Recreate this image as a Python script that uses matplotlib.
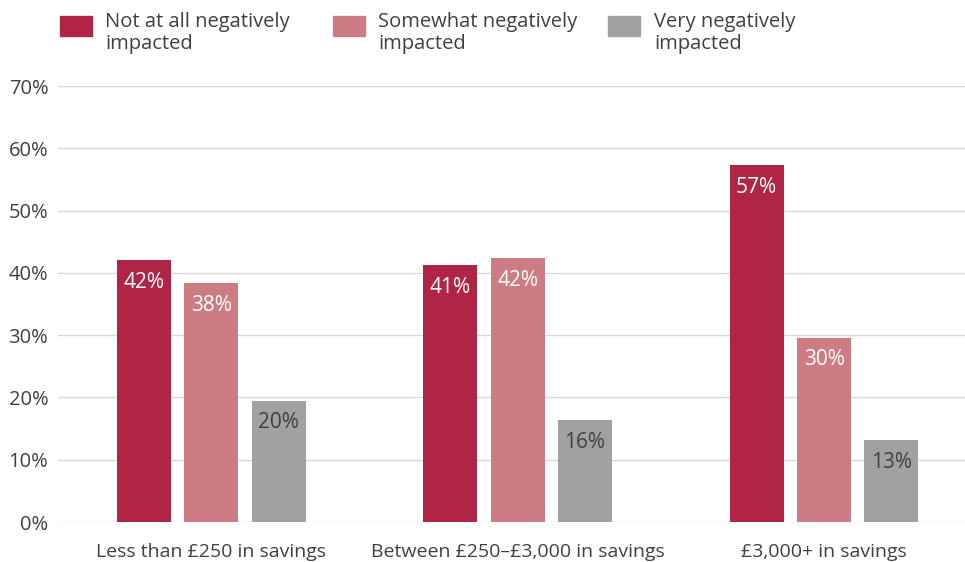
import numpy as np
import matplotlib
matplotlib.use('Agg')
import matplotlib.pyplot as plt
from matplotlib.patches import Rectangle

plt.rcParams['font.family'] = ['Open Sans', 'DejaVu Sans']

# Data
groups = ['Less than £250 in savings', 'Between £250–£3,000 in savings', '£3,000+ in savings']
series_names = ['Not at all negatively\nimpacted', 'Somewhat negatively\nimpacted', 'Very negatively\nimpacted']
not_at_all = [42.0, 41.2, 57.3]
somewhat = [38.4, 42.4, 29.6]
very = [19.5, 16.3, 13.1]
labels = [['42%', '41%', '57%'], ['38%', '42%', '30%'], ['20%', '16%', '13%']]

colors = ['#B02545', '#CD7C83', '#A2A19F']
label_colors = ['white', 'white', '#404040']
text_color = '#404040'

W, H = 965, 562
fig = plt.figure(figsize=(W / 100, H / 100), dpi=100)
ax = fig.add_axes([58 / W, 40 / H, 907 / W, 436 / H])

x = np.arange(len(groups))
width = 0.176
step = 0.22
for i, vals in enumerate([not_at_all, somewhat, very]):
    bars = ax.bar(x + (i - 1) * step, vals, width, color=colors[i], zorder=3)
    for b, lab in zip(bars, labels[i]):
        ax.text(b.get_x() + b.get_width() / 2, b.get_height() - 1.9, lab,
                ha='center', va='top', color=label_colors[i], fontsize=15, zorder=4)

ax.set_xlim(-0.5, 2.46)
ax.set_ylim(0, 70)
ax.set_yticks(range(0, 71, 10))
ax.set_yticklabels([f'{v}%' for v in range(0, 71, 10)])
ax.set_xticks(x)
ax.set_xticklabels(groups)
ax.grid(axis='y', color='#D9D9D9', linewidth=1, zorder=0)
for s in ax.spines.values():
    s.set_visible(False)
ax.tick_params(axis='both', length=0, colors=text_color, labelsize=14)
ax.tick_params(axis='y', labelsize=14.5, pad=7)
ax.tick_params(axis='x', pad=15)

# legend drawn by hand at the top
sq_x = [60, 333, 608]
tx_x = [105, 378, 654]
for i in range(3):
    fig.add_artist(Rectangle((sq_x[i] / W, 1 - 36 / H), 32 / W, 20 / H,
                             transform=fig.transFigure, color=colors[i]))
    fig.text(tx_x[i] / W, 1 - 12 / H, series_names[i], ha='left', va='top',
             fontsize=14.5, color=text_color, linespacing=1.15)

fig.savefig('out.png', dpi=100)
